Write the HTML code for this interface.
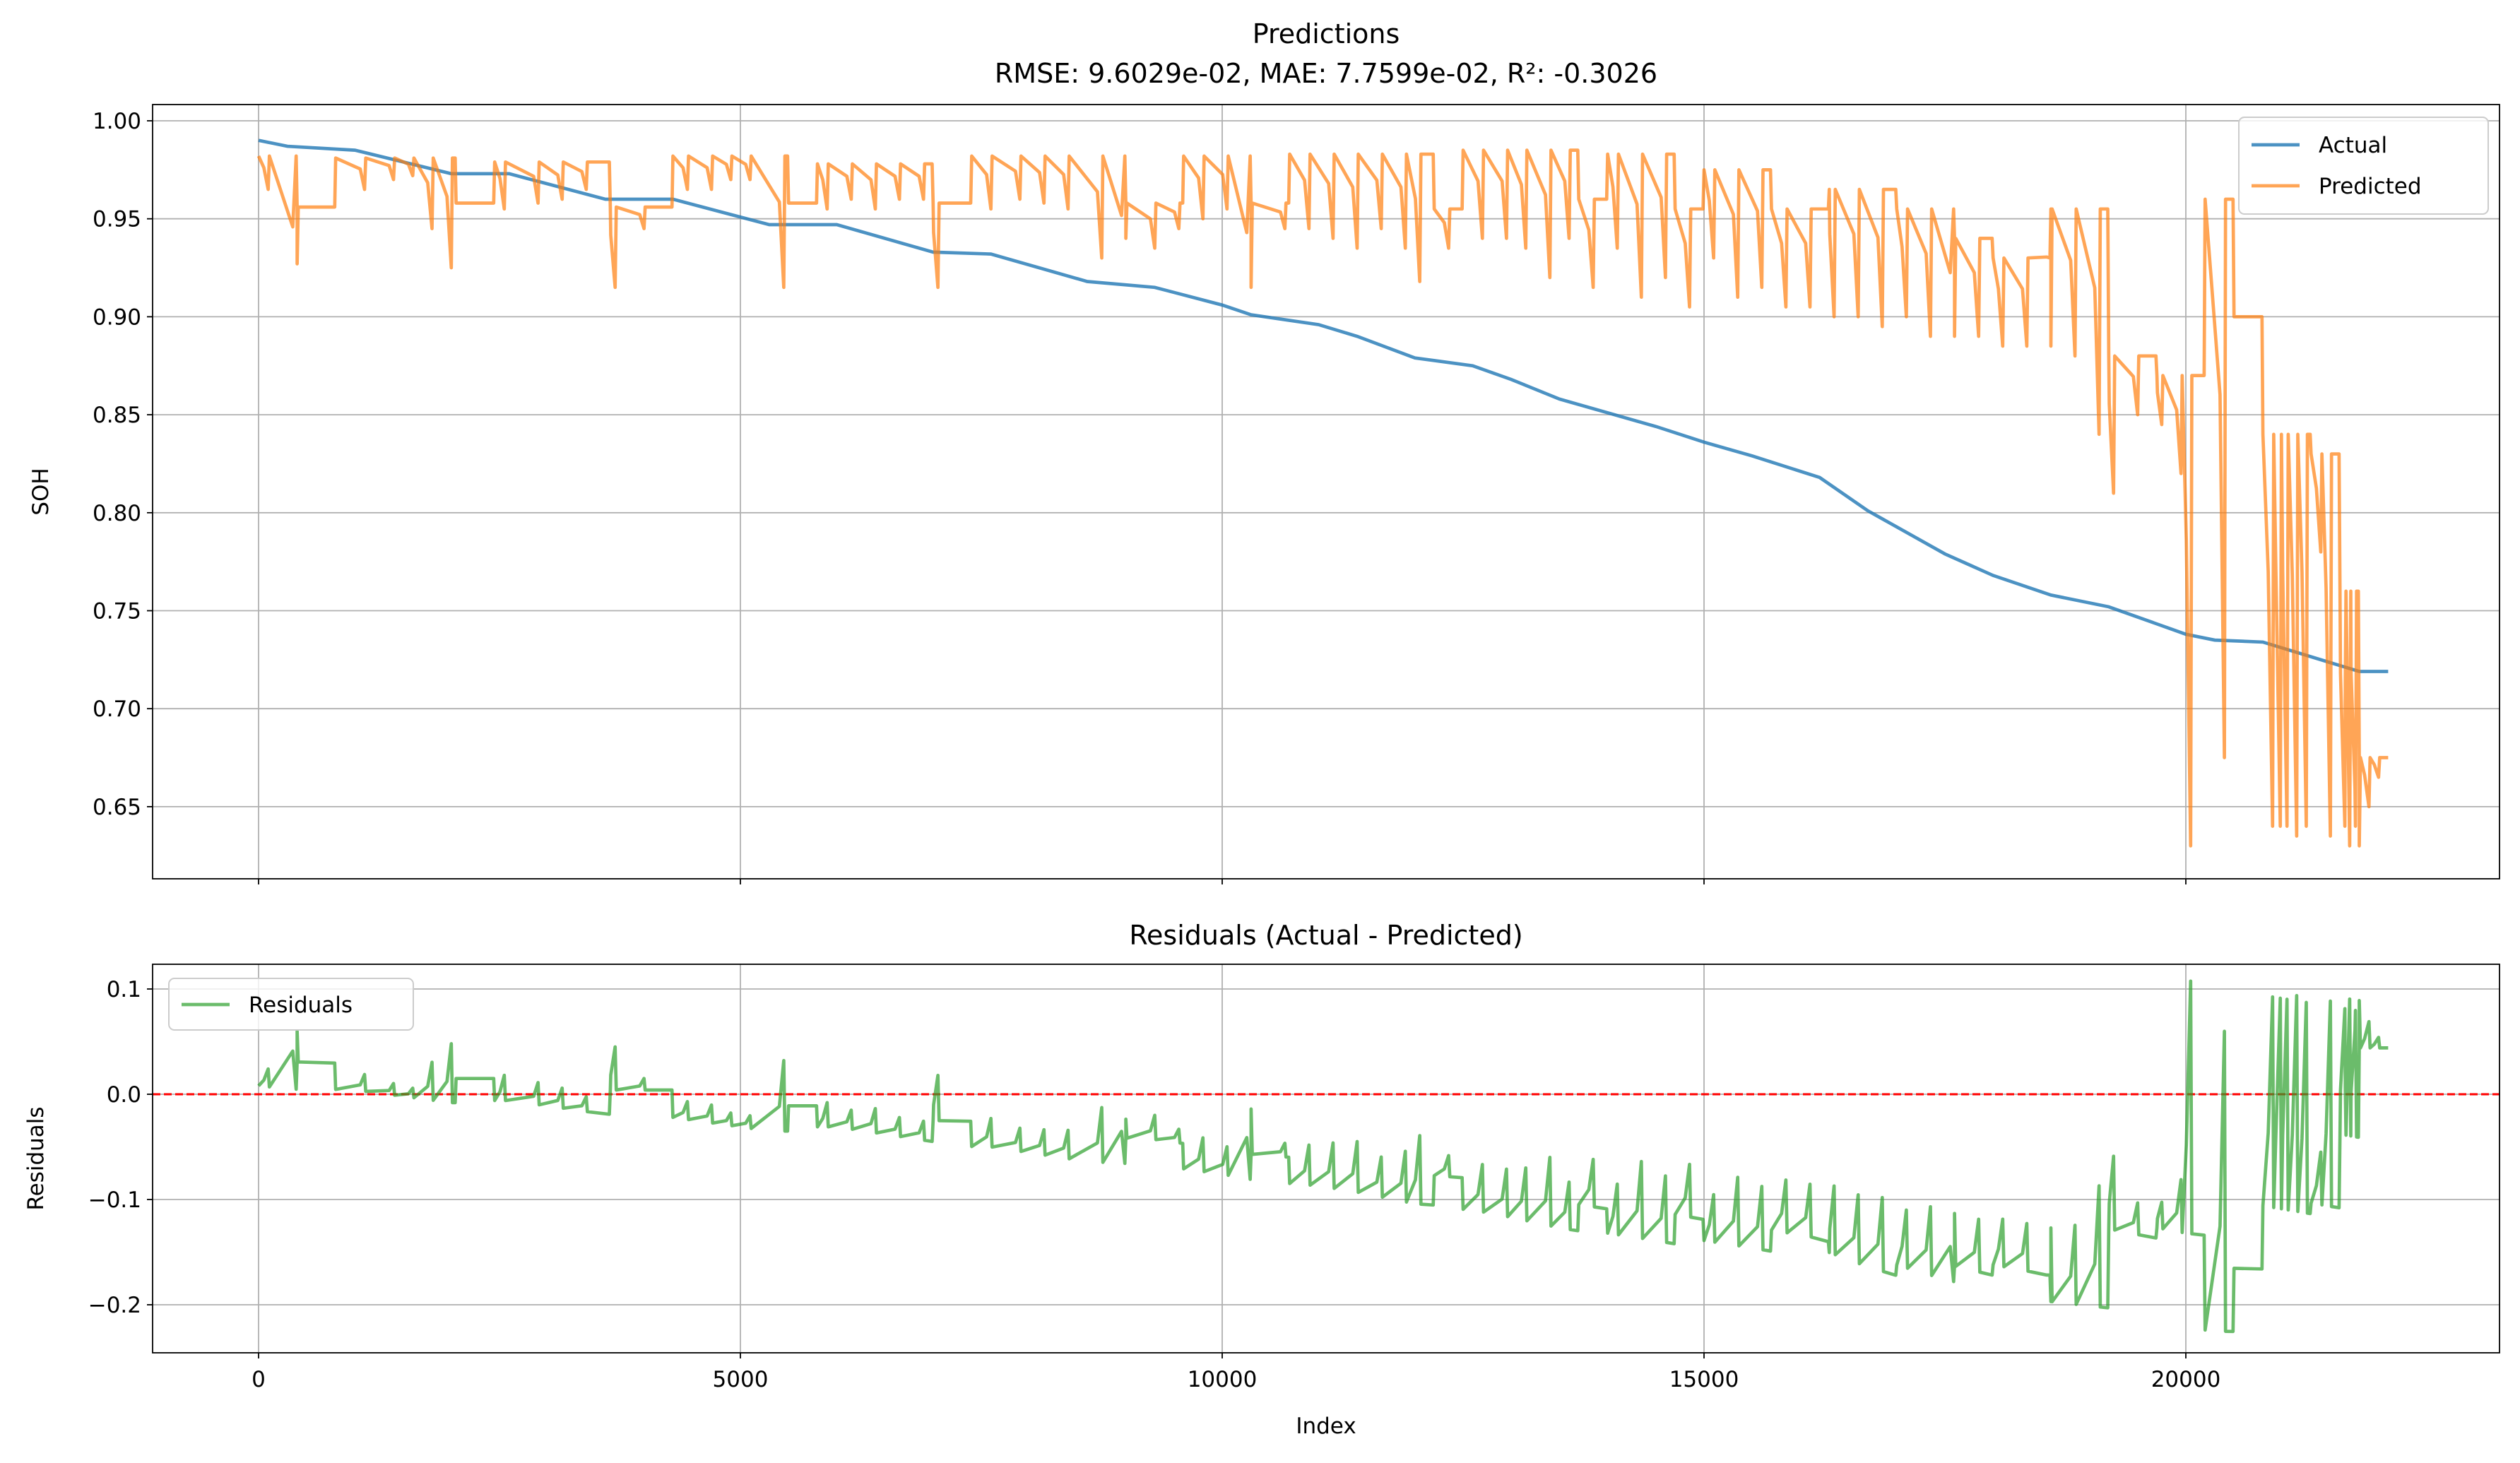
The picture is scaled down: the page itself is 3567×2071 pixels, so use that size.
<!DOCTYPE html>
<html><head><meta charset="utf-8"><style>
html,body{margin:0;padding:0;background:#fff}
svg{display:block;font-family:"DejaVu Sans","Liberation Sans",sans-serif}
</style></head><body>
<svg id="chart" width="3567" height="2071" viewBox="0 0 3567 2071" xmlns="http://www.w3.org/2000/svg"></svg>
<script>
const actualIdx=[0,300,1000,2000,2600,3600,4300,5300,6000,7000,7600,8600,9300,10000,10300,11000,11400,12000,12600,13000,13500,14500,15000,15500,16200,16700,17500,18000,18600,19200,20000,20300,20800,21800,22100];
const actualVals=[0.990,0.987,0.985,0.973,0.973,0.960,0.960,0.947,0.947,0.933,0.932,0.918,0.915,0.906,0.901,0.896,0.890,0.879,0.875,0.868,0.858,0.844,0.836,0.829,0.818,0.801,0.779,0.768,0.758,0.752,0.738,0.735,0.734,0.719,0.719];
// predicted plateau segments
const segStart=[0,400,800,2050,2450,3650,4300,5500,5800,7000,7400,9000,9600,10300,10700,12200,12500,13700,14000,14700,15000,15700,16300,17000,17600,18000,18600,19200,19700,20200,20500,20800,21300,21600,21800];
const segLevel=[0.982,0.956,0.981,0.958,0.979,0.956,0.982,0.958,0.978,0.958,0.982,0.958,0.982,0.958,0.983,0.955,0.985,0.960,0.983,0.955,0.975,0.955,0.965,0.955,0.940,0.930,0.955,0.880,0.870,0.960,0.900,0.840,0.830,0.760,0.675];
const predEnd=22100;
// predicted dips
const spikeIdx=[100,400,1100,1400,1600,1800,2000,2550,2900,3150,3400,3700,4000,4450,4700,4900,5100,5450,5900,6150,6400,6650,6900,7050,7600,7900,8150,8400,8750,9000,9300,9550,9800,10050,10300,10650,10900,11150,11400,11650,11900,12050,12350,12700,12950,13150,13400,13600,13850,14100,14350,14600,14850,15100,15350,15600,15850,16100,16350,16600,16850,17100,17350,17600,17850,18100,18350,18600,18850,19100,19250,19500,19750,19950,20050,20400,20900,20980,21050,21150,21250,21400,21500,21650,21700,21760,21800,21900,22000];
const spikeVals=[0.965,0.927,0.965,0.970,0.972,0.945,0.925,0.955,0.958,0.960,0.965,0.915,0.945,0.965,0.965,0.970,0.970,0.915,0.955,0.960,0.955,0.960,0.960,0.915,0.955,0.960,0.958,0.955,0.930,0.940,0.935,0.945,0.950,0.955,0.915,0.945,0.945,0.940,0.935,0.945,0.935,0.918,0.935,0.940,0.940,0.935,0.920,0.940,0.915,0.935,0.910,0.920,0.905,0.930,0.910,0.915,0.905,0.905,0.900,0.900,0.895,0.900,0.890,0.890,0.890,0.885,0.885,0.885,0.880,0.840,0.810,0.850,0.845,0.820,0.630,0.675,0.640,0.640,0.640,0.635,0.640,0.780,0.635,0.640,0.630,0.640,0.630,0.650,0.665];
const xTicks=[0,5000,10000,15000,20000];
const yTopTicks=[0.65,0.70,0.75,0.80,0.85,0.90,0.95,1.00];
const yBotTicks=[-0.2,-0.1,0.0,0.1];

const NS="http://www.w3.org/2000/svg";
const svg=document.getElementById('chart');
function mk(tag,attrs,parent,text){const e=document.createElementNS(NS,tag);for(const k in attrs)e.setAttribute(k,attrs[k]);if(text!==undefined)e.textContent=text;(parent||svg).appendChild(e);return e;}
const L=216,R=3538,T1=148,B1=1244,T2=1365,B2=1915;
const xS=v=>366+(v/20000)*(3094-366);
const yT=v=>171+(1.0-v)/0.05*138.7;
const yB=v=>1549-v/0.1*149;
function interpActual(i){for(let k=1;k<actualIdx.length;k++){if(i<=actualIdx[k]){const a=actualIdx[k-1],b=actualIdx[k];return actualVals[k-1]+(actualVals[k]-actualVals[k-1])*(i-a)/(b-a);}}return actualVals[actualVals.length-1];}
function levelAt(i){let l=segLevel[0];for(let k=0;k<segStart.length;k++){if(segStart[k]<=i)l=segLevel[k];}return l;}
// build predicted points
let pts=[];
segStart.forEach((s,k)=>{const e=k+1<segStart.length?segStart[k+1]-10:predEnd;pts.push([s,segLevel[k]]);pts.push([e,segLevel[k]]);});
spikeIdx.forEach((s,k)=>{const lv=levelAt(s);pts.push([s-45,lv+(spikeVals[k]-lv)*0.35]);pts.push([s,spikeVals[k]]);pts.push([s+12,lv]);});
pts.sort((a,b)=>a[0]-b[0]);
pts=pts.filter(p=>p[0]>=0&&p[0]<=predEnd);

// grids
xTicks.forEach(t=>{
 let g=mk('line',{x1:xS(t),x2:xS(t),y1:T1,y2:B1,stroke:'#b0b0b0','stroke-width':1.8});
 
 g=mk('line',{x1:xS(t),x2:xS(t),y1:T2,y2:B2,stroke:'#b0b0b0','stroke-width':1.8});
 
 let tk=mk('line',{x1:xS(t),x2:xS(t),y1:B1,y2:B1+8,stroke:'#000','stroke-width':1.8});
 
 tk=mk('line',{x1:xS(t),x2:xS(t),y1:B2,y2:B2+8,stroke:'#000','stroke-width':1.8});
 
 const lb=mk('text',{x:xS(t),y:1963,'font-size':31,'text-anchor':'middle'},svg,String(t));
 
});
yTopTicks.forEach(t=>{
 const g=mk('line',{x1:L,x2:R,y1:yT(t),y2:yT(t),stroke:'#b0b0b0','stroke-width':1.8});
 
 const tk=mk('line',{x1:L-8,x2:L,y1:yT(t),y2:yT(t),stroke:'#000','stroke-width':1.8});
 
 const lb=mk('text',{x:L-16,y:yT(t)+11,'font-size':31,'text-anchor':'end'},svg,t.toFixed(2));
 
});
yBotTicks.forEach(t=>{
 const g=mk('line',{x1:L,x2:R,y1:yB(t),y2:yB(t),stroke:'#b0b0b0','stroke-width':1.8});
 
 const tk=mk('line',{x1:L-8,x2:L,y1:yB(t),y2:yB(t),stroke:'#000','stroke-width':1.8});
 
 const lb=mk('text',{x:L-16,y:yB(t)+11,'font-size':31,'text-anchor':'end'},svg,(t<0?'\u2212'+Math.abs(t).toFixed(1):t.toFixed(1)));
 
});

const defs=mk('defs',{});
const c1=mk('clipPath',{id:'c1'},defs);mk('rect',{x:L,y:T1,width:R-L,height:B1-T1},c1);
const c2=mk('clipPath',{id:'c2'},defs);mk('rect',{x:L,y:T2,width:R-L,height:B2-T2},c2);

let d=actualIdx.map((v,i)=>(i?'L':'M')+xS(v).toFixed(1)+','+yT(actualVals[i]).toFixed(1)).join('');
const actualLine=mk('path',{d:d,fill:'none',stroke:'#1f77b4','stroke-opacity':0.8,'stroke-width':4.7,'clip-path':'url(#c1)'});

d=pts.map((p,i)=>(i?'L':'M')+xS(p[0]).toFixed(1)+','+yT(p[1]).toFixed(1)).join('');
const predLine=mk('path',{d:d,fill:'none',stroke:'#ff7f0e','stroke-opacity':0.7,'stroke-width':4.7,'stroke-linejoin':'round','clip-path':'url(#c1)'});

const zero=mk('line',{x1:L,x2:R,y1:yB(0),y2:yB(0),stroke:'#ff0000','stroke-width':3,'stroke-dasharray':'11,5'});

d=pts.map((p,i)=>(i?'L':'M')+xS(p[0]).toFixed(1)+','+yB(interpActual(p[0])-p[1]).toFixed(1)).join('');
const resLine=mk('path',{d:d,fill:'none',stroke:'#2ca02c','stroke-opacity':0.7,'stroke-width':4.7,'stroke-linejoin':'round','clip-path':'url(#c2)'});


let f=mk('rect',{x:L,y:T1,width:R-L,height:B1-T1,fill:'none',stroke:'#000','stroke-width':1.8});

f=mk('rect',{x:L,y:T2,width:R-L,height:B2-T2,fill:'none',stroke:'#000','stroke-width':1.8});


let t=mk('text',{x:(L+R)/2,y:61,'font-size':38,'text-anchor':'middle'},svg,'Predictions');

t=mk('text',{x:(L+R)/2,y:117,'font-size':38,'text-anchor':'middle'},svg,'RMSE: 9.6029e-02, MAE: 7.7599e-02, R²: -0.3026');

t=mk('text',{x:(L+R)/2,y:1337,'font-size':38,'text-anchor':'middle'},svg,'Residuals (Actual - Predicted)');

t=mk('text',{x:(L+R)/2,y:2029,'font-size':31,'text-anchor':'middle'},svg,'Index');

t=mk('text',{x:68,y:(T1+B1)/2,'font-size':31,'text-anchor':'middle',transform:'rotate(-90 68 '+((T1+B1)/2)+')'},svg,'SOH');

t=mk('text',{x:61,y:(T2+B2)/2,'font-size':31,'text-anchor':'middle',transform:'rotate(-90 61 '+((T2+B2)/2)+')'},svg,'Residuals');


const lg1=mk('g',{});

mk('rect',{x:3169,y:166,width:353,height:137,rx:8,fill:'#fff','fill-opacity':0.8,stroke:'#ccc','stroke-width':2},lg1);
mk('line',{x1:3187,x2:3255,y1:205,y2:205,stroke:'#1f77b4','stroke-opacity':0.8,'stroke-width':4.7},lg1);
let e=mk('text',{x:3282,y:216,'font-size':31},lg1,'Actual');

mk('line',{x1:3187,x2:3255,y1:263,y2:263,stroke:'#ff7f0e','stroke-opacity':0.7,'stroke-width':4.7},lg1);
e=mk('text',{x:3282,y:274,'font-size':31},lg1,'Predicted');

const lg2=mk('g',{});

mk('rect',{x:239,y:1385,width:346,height:73,rx:8,fill:'#fff','fill-opacity':0.8,stroke:'#ccc','stroke-width':2},lg2);
mk('line',{x1:257,x2:325,y1:1422,y2:1422,stroke:'#2ca02c','stroke-opacity':0.7,'stroke-width':4.7},lg2);
e=mk('text',{x:352,y:1433,'font-size':31},lg2,'Residuals');

</script>
</body></html>
